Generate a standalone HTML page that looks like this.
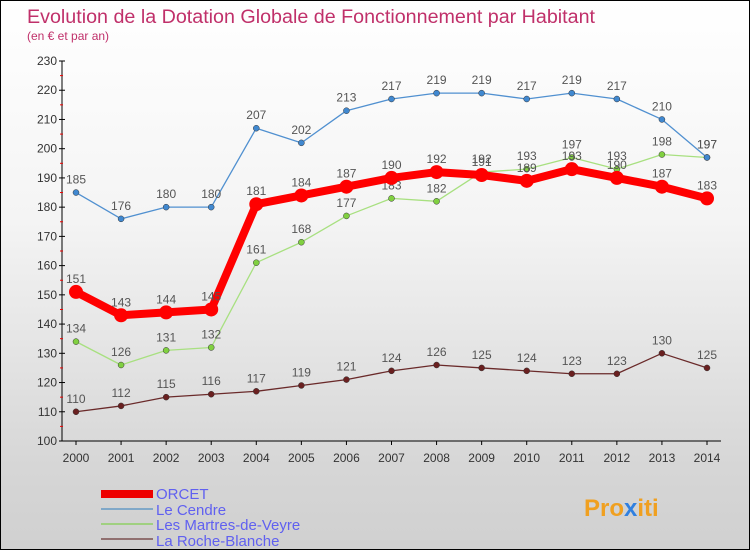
<!DOCTYPE html>
<html><head><meta charset="utf-8"><style>
body{margin:0}
#c{width:748px;height:548px;border:1px solid #000;background:linear-gradient(#fff 0%,#f4f4f4 40%,#d6d6d6 85%,#d0d0d0 100%);position:relative;overflow:hidden;font-family:"Liberation Sans",sans-serif}
svg text{font-family:"Liberation Sans",sans-serif}
</style></head><body>
<div id="c">
<svg id="s" width="748" height="548">
<text x="26" y="22" font-size="19.7" fill="#c0306a">Evolution de la Dotation Globale de Fonctionnement par Habitant</text>
<text x="26" y="39" font-size="12" fill="#c0306a">(en € et par an)</text>
<g>
<rect x="100" y="489" width="52" height="8" fill="#e00"/>
<text x="155" y="498" font-size="15" fill="#6060f0">ORCET</text>
<rect x="100" y="507" width="52" height="2" fill="#80a8c8"/>
<text x="155" y="514" font-size="15" fill="#6060f0">Le Cendre</text>
<rect x="100" y="522" width="52" height="2" fill="#a0d080"/>
<text x="155" y="529" font-size="15" fill="#6060f0">Les Martres-de-Veyre</text>
<rect x="100" y="537" width="52" height="2" fill="#907070"/>
<text x="155" y="545" font-size="15" fill="#6060f0">La Roche-Blanche</text>
</g>
<g><text x="583" y="515" font-size="24" font-weight="bold" fill="#f0a020">Pro<tspan fill="#3080e0">x</tspan>iti</text></g>
</svg></div>
<script>
const years=[2000,2001,2002,2003,2004,2005,2006,2007,2008,2009,2010,2011,2012,2013,2014];
const yTicks=[100,110,120,130,140,150,160,170,180,190,200,210,220,230];
const orcet=[151,143,144,145,181,184,187,190,192,191,189,193,190,187,183];
const leCendre=[185,176,180,180,207,202,213,217,219,219,217,219,217,210,197];
const martres=[134,126,131,132,161,168,177,183,182,192,193,197,193,198,197];
const roche=[110,112,115,116,117,119,121,124,126,125,124,123,123,130,125];
const NS='http://www.w3.org/2000/svg',s=document.getElementById('s');
const X=i=>75+i*(706-75)/(years.length-1);
const Y=v=>440-(v-100)*(380/130);
function el(t,a,p){const e=document.createElementNS(NS,t);for(const k in a)e.setAttribute(k,a[k]);(p||s).appendChild(e);return e;}
const ax=el('g',{});


const yl=el('line',{x1:61,y1:60,x2:61,y2:440,stroke:'#000'},ax);


const xl=el('line',{x1:61,y1:440,x2:720,y2:440,stroke:'#000'},ax);


yTicks.forEach((v,i)=>{
  el('line',{x1:58,y1:Y(v),x2:64,y2:Y(v),stroke:'#000'},ax);
  if(i<yTicks.length-1)el('line',{x1:59,y1:Y(v+5),x2:62,y2:Y(v+5),stroke:'#e00'},ax);
  const t=el('text',{x:56,y:Y(v)+4,'font-size':12,fill:'#333','text-anchor':'end'},ax);
  
  
  t.textContent=v;
});
years.forEach((y,i)=>{
  el('line',{x1:X(i),y1:440,x2:X(i),y2:444,stroke:'#000'},ax);
  const t=el('text',{x:X(i),y:461,'font-size':12,fill:'#333','text-anchor':'middle'},ax);
  
  
  t.textContent=y;
});
function series(data,name,color,fill,w,r){
  const g=el('g',{});
  
  
  const p=el('polyline',{points:data.map((v,i)=>X(i)+','+Y(v)).join(' '),fill:'none',stroke:color,'stroke-width':w,'stroke-linejoin':'round'},g);
  
  
  data.forEach((v,i)=>{
    const c=el('circle',{cx:X(i),cy:Y(v),r:r,fill:fill,stroke:w>3?'none':'#333','stroke-width':0.5},g);
    
    
    const t=el('text',{x:X(i),y:Y(v)-9,'font-size':12,fill:'#555','text-anchor':'middle'},g);
    
    
    t.textContent=v;
  });
}
series(roche,'la-roche-blanche','#6a2a2a','#6a2020',1.3,3);
series(martres,'les-martres-de-veyre','#a8e080','#80d040',1.3,3);
series(leCendre,'le-cendre','#5090d0','#4088d0',1.3,3);
series(orcet,'orcet','#f00','#f00',8,7);
</script>
</body></html>
